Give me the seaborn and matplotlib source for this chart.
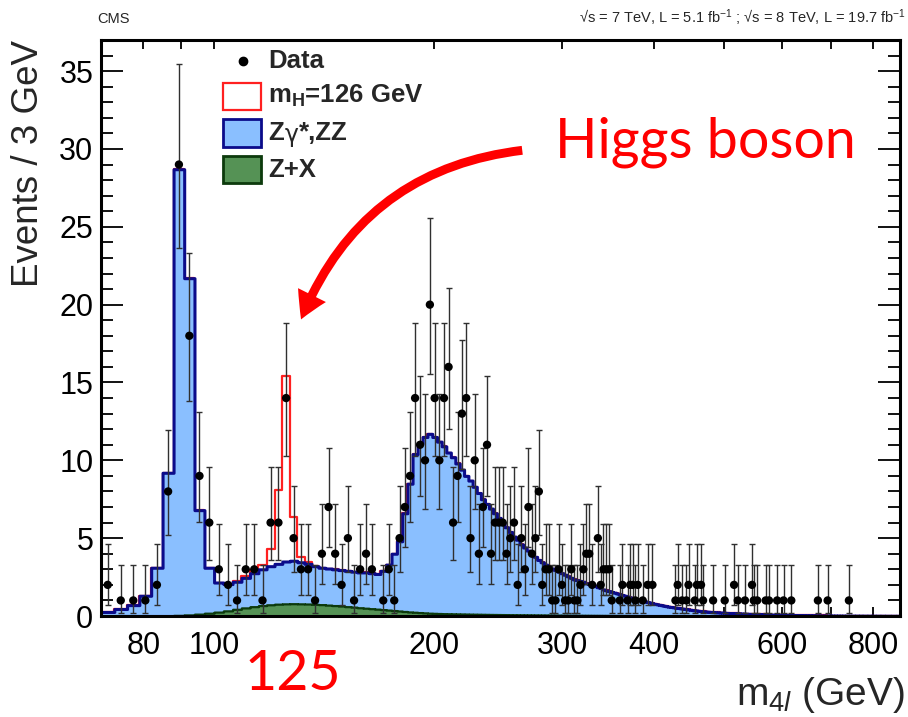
import math
import numpy as np
import pandas as pd
import matplotlib
matplotlib.use("Agg")
import matplotlib.pyplot as plt
import seaborn as sns
from matplotlib.patches import Rectangle, FancyArrowPatch, ArrowStyle
from matplotlib.lines import Line2D
from matplotlib.ticker import FixedLocator, MultipleLocator, NullFormatter

# ---------------- values ----------------
bin_low = 70.0          # GeV, first bin edge
bin_width = 3.0         # GeV
n_bins = 267

# observed events (only non-empty 3 GeV bins): bin index and count
data_bin = [0, 1, 2, 3, 4, 5, 6, 7, 8, 9,
            10, 11, 12, 13, 14, 15, 16, 17, 18, 19,
            20, 21, 22, 23, 24, 25, 26, 27, 28, 29,
            30, 31, 33, 34, 35, 36, 37, 38, 39,
            40, 41, 42, 43, 44, 45, 46, 47, 48, 49,
            50, 51, 52, 53, 54, 55, 56, 57, 58, 59,
            60, 61, 62, 63, 64, 65, 66, 67, 68, 69,
            70, 71, 72, 73, 74, 75, 76, 77, 78, 79,
            80, 81, 82, 83, 84, 85, 86, 88, 89,
            90, 91, 92, 93, 96, 97, 99, 100, 101, 102, 103, 105, 107, 109,
            119, 120, 122, 124, 125, 128, 129, 131, 132, 137,
            143, 148, 150, 154, 158, 159, 161, 166, 168, 173,
            177, 182, 200, 207, 223]
data_events = [2, 1, 1, 1, 2, 8, 29, 18, 9, 6,
               3, 2, 1, 3, 3, 1, 6, 6, 14, 5,
               3, 3, 1, 4, 7, 4, 2, 5, 1, 3,
               4, 3, 1, 3, 1, 5, 7, 9, 14,
               11, 10, 20, 14, 10, 14, 16, 6, 9, 13,
               14, 5, 10, 4, 7, 11, 4, 6, 6, 6,
               4, 5, 6, 2, 5, 3, 7, 4, 5, 8,
               2, 3, 3, 1, 1, 3, 2, 1, 1, 3,
               1, 1, 2, 3, 4, 4, 2, 5, 2,
               3, 3, 3, 1, 1, 2, 1, 2, 2, 1, 2, 1, 2, 2,
               1, 2, 1, 1, 2, 1, 2, 2, 1, 1,
               1, 2, 1, 1, 2, 1, 1, 1, 1, 1,
               1, 1, 1, 1, 1]

# total background (Z+X stacked under Zgamma*,ZZ), events / 3 GeV
bkg_total = [
    0.26, 0.45, 0.7, 1.3, 3.1, 9.2, 28.7, 21.7, 6.8, 3.1,
    2.15, 2.05, 2.2, 2.45, 2.75, 3.0, 3.2, 3.35, 3.5, 3.55,
    3.45, 3.35, 3.2, 3.1, 3.05, 3.0, 2.95, 2.9, 2.85, 2.8,
    2.8, 2.75, 2.7, 2.9, 3.3, 4.0, 4.8, 6.6, 8.5, 10.4,
    11.1, 11.5, 11.7, 11.5, 11.2, 10.9, 10.5, 10.2, 9.8, 9.4,
    9.0, 8.7, 8.3, 7.9, 7.5, 7.2, 6.9, 6.6, 6.3, 6.0,
    5.7, 5.4, 5.1, 4.9, 4.6, 4.4, 4.2, 4.0, 3.8, 3.6,
    3.45, 3.3, 3.2, 3.05, 2.95, 2.85, 2.75, 2.65, 2.55, 2.45,
    2.35, 2.3, 2.25, 2.2, 2.1, 2.05, 2.0, 1.95, 1.85, 1.8,
    1.7, 1.65, 1.6, 1.55, 1.5, 1.45, 1.4, 1.35, 1.3, 1.25,
    1.2, 1.15, 1.1, 1.06, 1.02, 0.98, 0.94, 0.9, 0.86, 0.82,
    0.78, 0.75, 0.72, 0.69, 0.66, 0.63, 0.6, 0.58, 0.56, 0.54,
    0.52, 0.5, 0.48, 0.46, 0.44, 0.42, 0.4, 0.38, 0.36, 0.35,
    0.33, 0.32, 0.3, 0.29, 0.28, 0.27, 0.26, 0.25, 0.24, 0.235,
    0.23, 0.22, 0.215, 0.21, 0.2, 0.195, 0.19, 0.185, 0.18, 0.175,
    0.17, 0.165, 0.16, 0.155, 0.15, 0.145, 0.14, 0.135, 0.13, 0.13,
    0.125, 0.12, 0.12, 0.115, 0.11, 0.105, 0.1, 0.1, 0.095, 0.09,
    0.09, 0.085, 0.085, 0.08, 0.08, 0.075, 0.075, 0.07, 0.07, 0.068,
    0.065, 0.06, 0.06, 0.058, 0.056, 0.054, 0.052, 0.05, 0.049, 0.048,
    0.047, 0.046, 0.045, 0.044, 0.043, 0.042, 0.041, 0.04, 0.039, 0.038,
    0.037, 0.036, 0.035, 0.035, 0.034, 0.033, 0.033, 0.032, 0.031, 0.031,
    0.03, 0.03, 0.029, 0.029, 0.028, 0.028, 0.027, 0.027, 0.026, 0.026,
    0.025, 0.025, 0.025, 0.024, 0.024, 0.023, 0.023, 0.023, 0.022, 0.022,
    0.022, 0.021, 0.021, 0.021, 0.02, 0.02, 0.02, 0.02, 0.019, 0.019,
    0.019, 0.018, 0.018, 0.018, 0.018, 0.017, 0.017, 0.017, 0.017, 0.016,
    0.016, 0.016, 0.016, 0.015, 0.015, 0.015, 0.015, 0.015, 0.014, 0.014,
    0.014, 0.014, 0.014, 0.013, 0.013, 0.013, 0.013]

# reducible background Z+X
zx_bkg = [
    0.0, 0.0, 0.0, 0.01, 0.01, 0.02, 0.04, 0.07, 0.12, 0.18,
    0.25, 0.33, 0.43, 0.52, 0.6, 0.67, 0.72, 0.76, 0.78, 0.79,
    0.78, 0.77, 0.75, 0.73, 0.7, 0.67, 0.64, 0.6, 0.57, 0.53,
    0.5, 0.47, 0.44, 0.41, 0.38, 0.35, 0.32, 0.29, 0.26, 0.24,
    0.22, 0.2, 0.18, 0.17, 0.16, 0.15, 0.145, 0.14, 0.135, 0.13,
    0.125, 0.12, 0.116, 0.112, 0.108, 0.104, 0.1, 0.097, 0.094, 0.091,
    0.088, 0.085, 0.082, 0.08, 0.078, 0.076, 0.074, 0.072, 0.07, 0.068,
    0.066, 0.064, 0.062, 0.06, 0.058, 0.056, 0.054, 0.052, 0.05, 0.049,
    0.048, 0.047, 0.046, 0.045, 0.044, 0.043, 0.042, 0.041, 0.04, 0.039,
    0.038, 0.037, 0.036, 0.035, 0.034, 0.033, 0.032, 0.031, 0.03, 0.03,
    0.029, 0.029, 0.028, 0.028, 0.027, 0.027, 0.026, 0.026, 0.025, 0.025,
    0.024, 0.024, 0.023, 0.023, 0.022, 0.022, 0.021, 0.021, 0.02, 0.02,
    0.02, 0.019, 0.019, 0.019, 0.018, 0.018, 0.018, 0.017, 0.017, 0.017,
    0.016, 0.016, 0.016, 0.016, 0.015, 0.015, 0.015, 0.015, 0.014, 0.014,
    0.014, 0.014, 0.014, 0.013, 0.013, 0.013, 0.013, 0.013, 0.012, 0.012,
    0.012, 0.012, 0.012, 0.012, 0.012, 0.012, 0.012, 0.012, 0.012, 0.012,
    0.012, 0.011, 0.011, 0.011, 0.011, 0.011, 0.011, 0.011, 0.011, 0.011,
    0.011, 0.011, 0.011, 0.011, 0.011, 0.011, 0.011, 0.011, 0.011, 0.011,
    0.011, 0.011, 0.01, 0.01, 0.01, 0.01, 0.01, 0.01, 0.01, 0.01,
    0.01, 0.01, 0.01, 0.01, 0.01, 0.01, 0.01, 0.01, 0.01, 0.01,
    0.01, 0.01, 0.01, 0.01, 0.01, 0.01, 0.01, 0.01, 0.01, 0.01,
    0.01, 0.01, 0.01, 0.01, 0.01, 0.01, 0.01, 0.01, 0.01, 0.01,
    0.01, 0.01, 0.01, 0.01, 0.01, 0.01, 0.01, 0.01, 0.01, 0.01,
    0.01, 0.01, 0.01, 0.01, 0.01, 0.01, 0.01, 0.01, 0.01, 0.01,
    0.01, 0.01, 0.01, 0.01, 0.01, 0.01, 0.01, 0.01, 0.01, 0.01,
    0.01, 0.01, 0.01, 0.01, 0.01, 0.01, 0.01, 0.01, 0.01, 0.01,
    0.01, 0.01, 0.01, 0.01, 0.01, 0.01, 0.01]

# expected mH = 126 GeV signal on top of the background
higgs_bins = [12, 13, 14, 15, 16, 17, 18, 19, 20, 21]
higgs_signal = [0.05, 0.1, 0.2, 0.3, 1.1, 4.75, 11.9, 2.8, 0.35, 0.1]

x_tick_values = [80, 100, 200, 300, 400, 600, 800]
x_tick_labels = ["80", "100", "200", "300", "400", "600", "800"]
x_minor_ticks = [70, 90, 500, 700]
legend_labels = ["Data", r"m$_{\mathbf{H}}$=126 GeV", None, "Z+X"]

assert len(bkg_total) == n_bins and len(zx_bkg) == n_bins
assert len(data_bin) == len(data_events)

# ---------------- derived quantities ----------------
edges = [bin_low + bin_width * i for i in range(n_bins + 1)]
centers = np.array([0.5 * (edges[i] + edges[i + 1]) for i in range(n_bins)])
red_total = np.array(bkg_total, dtype=float)
for b, s in zip(higgs_bins, higgs_signal):
    red_total[b] += s

df_mc = pd.DataFrame({"m": centers, "total": bkg_total, "zx": zx_bkg, "sig": red_total})
data_mass = centers[np.array(data_bin)]
data_n = np.array(data_events, dtype=float)


def _pois_cdf(k, mu):
    return sum(math.exp(-mu + i * math.log(mu) - math.lgamma(i + 1)) for i in range(k + 1))


def garwood(n, alpha=0.158655):
    if n == 0:
        lo = 0.0
    else:
        a, b = 1e-9, float(n)
        for _ in range(80):
            m = 0.5 * (a + b)
            if 1 - _pois_cdf(n - 1, m) < alpha:
                a = m
            else:
                b = m
        lo = 0.5 * (a + b)
    a, b = float(n), n + 10 * math.sqrt(n + 1) + 10
    for _ in range(80):
        m = 0.5 * (a + b)
        if _pois_cdf(n, m) > alpha:
            a = m
        else:
            b = m
    hi = 0.5 * (a + b)
    return lo, hi


err_lo, err_hi = [], []
for n in data_events:
    lo, hi = garwood(n)
    err_lo.append(n - lo)
    err_hi.append(hi - n)

# ---------------- style ----------------
sns.set_theme(style="ticks")
plt.rcParams["font.family"] = ["Liberation Sans", "DejaVu Sans"]
plt.rcParams["mathtext.fontset"] = "custom"
plt.rcParams["mathtext.rm"] = "Liberation Sans"
plt.rcParams["mathtext.it"] = "Liberation Sans:italic"
plt.rcParams["mathtext.bf"] = "Liberation Sans:bold"

W, H = 908, 717


def fx(px):
    return px / W


def fy(py):
    return 1 - py / H


BLUE_FILL = "#8abfff"
NAVY = "#0b0b8a"
GREEN_FILL = "#559255"
DARK_GREEN = "#0c3a0c"
RED = "#ff2020"

fig = plt.figure(figsize=(W / 100, H / 100), dpi=100)
ax = fig.add_axes([fx(101), fy(616), (900 - 101) / W, (616 - 40) / H])

sns.histplot(data=df_mc, x="m", weights="sig", bins=edges, element="step",
             fill=False, color=RED, linewidth=1.6, ax=ax, zorder=1)
sns.histplot(data=df_mc, x="m", weights="total", bins=edges, element="step",
             fill=True, color=BLUE_FILL, edgecolor=NAVY, linewidth=2.2,
             alpha=1, ax=ax, zorder=2)
sns.histplot(data=df_mc, x="m", weights="zx", bins=edges, element="step",
             fill=True, color=GREEN_FILL, edgecolor=DARK_GREEN, linewidth=1.6,
             alpha=1, ax=ax, zorder=3)

ax.errorbar(data_mass, data_n, yerr=[err_lo, err_hi], fmt="none",
            ecolor="#303030", elinewidth=1.0, capsize=2.3, capthick=1.0, zorder=5)
sns.scatterplot(x=data_mass, y=data_n, ax=ax, color="black", s=36,
                edgecolor="none", zorder=6, legend=False)

ax.set_xscale("log")
ax.set_xlim(70, 870)
ax.set_ylim(0, 37)
ax.set_xlabel("")
ax.set_ylabel("")

ax.xaxis.set_major_locator(FixedLocator(x_tick_values))
ax.set_xticklabels(x_tick_labels)
ax.xaxis.set_minor_locator(FixedLocator(x_minor_ticks))
ax.xaxis.set_minor_formatter(NullFormatter())
ax.yaxis.set_major_locator(MultipleLocator(5))
ax.yaxis.set_minor_locator(MultipleLocator(1))

ax.tick_params(which="both", direction="in", top=True, right=True,
               width=1.3, color="black", labelsize=22, labelcolor="black")
ax.tick_params(axis="y", which="major", length=16, pad=5.5)
ax.tick_params(axis="y", which="minor", length=8.5)
ax.tick_params(axis="x", which="both", length=6.5, pad=11)
for sp in ax.spines.values():
    sp.set_linewidth(2.2)
    sp.set_color("black")
    sp.set_zorder(10)

# axis titles (ROOT style: at the ends of the axes)
fig.text(fx(905), fy(695), r"m$_{4\mathit{l}}$ (GeV)", ha="right", va="center", fontsize=28)
fig.text(fx(29), fy(40), "Events / 3 GeV", rotation=90, ha="center", va="top", fontsize=26.5)

# header
fig.text(fx(97), fy(19), "CMS", ha="left", va="center", fontsize=10.5,
         family=["Liberation Sans Narrow", "Liberation Sans", "DejaVu Sans"])
fig.text(fx(906), fy(18),
         "\u221as = 7 TeV, L = 5.1 fb$^{-1}$ ; \u221as = 8 TeV, L = 19.7 fb$^{-1}$",
         ha="right", va="center", fontsize=10.5,
         family=["Liberation Sans Narrow", "Liberation Sans", "DejaVu Sans"])

# legend (drawn by hand to match the ROOT layout)
fig.add_artist(Line2D([fx(243)], [fy(61)], marker="o", ms=6, color="black",
                      linestyle="none", transform=fig.transFigure))
fig.add_artist(Rectangle((fx(223), fy(110)), 38 / W, 27 / H, transform=fig.transFigure,
                         facecolor="white", edgecolor=RED, linewidth=1.6))
fig.add_artist(Rectangle((fx(223), fy(147)), 38 / W, 28 / H, transform=fig.transFigure,
                         facecolor=BLUE_FILL, edgecolor=NAVY, linewidth=2.0))
fig.add_artist(Rectangle((fx(223), fy(183)), 38 / W, 27 / H, transform=fig.transFigure,
                         facecolor=GREEN_FILL, edgecolor=DARK_GREEN, linewidth=2.0))
LEG_FS = 18.5
for lab, yc in zip(legend_labels, [61, 96, 133, 170]):
    if lab is not None:
        fig.text(fx(268), fy(yc), lab, ha="left", va="center", fontsize=LEG_FS,
                 fontweight="bold")

# "Z gamma*,ZZ" built from pieces so that the gamma has its Greek shape
renderer = fig.canvas.get_renderer()
t1 = fig.text(fx(268), fy(133), "Z", ha="left", va="center", fontsize=LEG_FS, fontweight="bold")
bb = t1.get_window_extent(renderer)
t2 = fig.text(bb.x1 / W + 0.5 / W, fy(135), "\u03b3", ha="left", va="center",
              fontsize=17, family=["DejaVu Sans"])
bb2 = t2.get_window_extent(renderer)
fig.text(bb2.x1 / W + 0.5 / W, fy(133), "*,ZZ", ha="left", va="center",
         fontsize=LEG_FS, fontweight="bold")

# slide annotations
fig.text(fx(555), fy(157), "Higgs boson", color="#ff0000", fontsize=40,
         family=["Lato", "DejaVu Sans"], ha="left", va="baseline")
fig.text(fx(293), fy(675), "125", color="#ff0000", fontsize=40,
         family=["Lato", "DejaVu Sans"], ha="center", va="center")
arrow = FancyArrowPatch((fx(525), fy(150)), (fx(300), fy(322)),
                        transform=fig.transFigure,
                        connectionstyle="arc3,rad=0.3",
                        arrowstyle=ArrowStyle("simple", head_length=1.2,
                                              head_width=1.4, tail_width=0.4),
                        mutation_scale=16, color="#ff0000", linewidth=0)
fig.add_artist(arrow)

fig.savefig("out.png", dpi=100)
